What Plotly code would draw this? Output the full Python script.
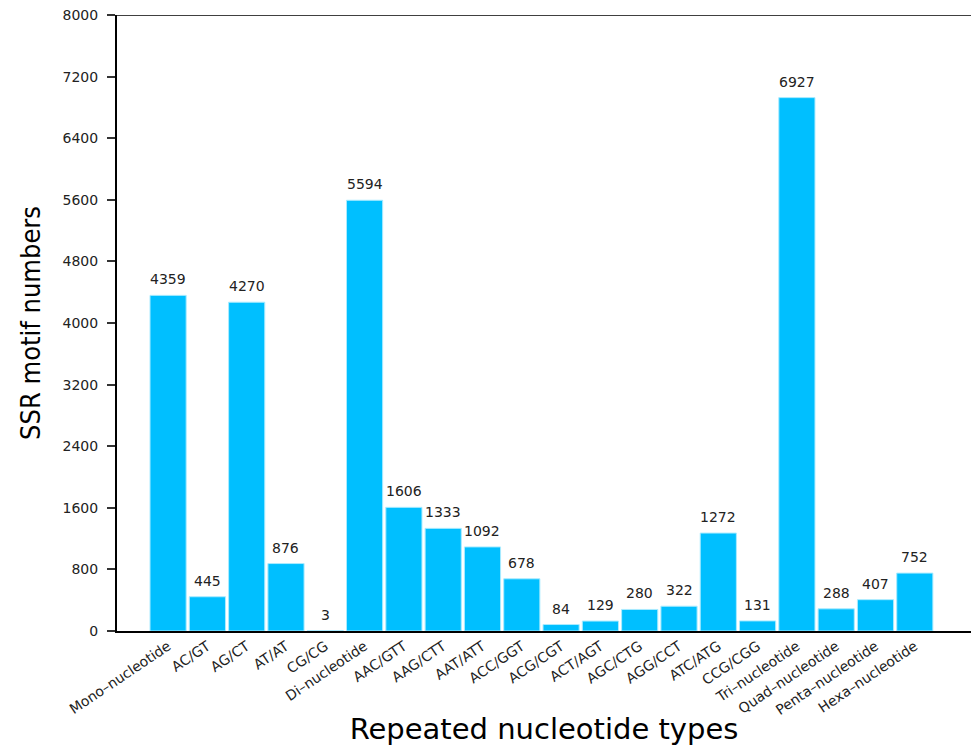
import plotly.graph_objects as go

categories = ["Mono–nucleotide", "AC/GT", "AG/CT", "AT/AT", "CG/CG", "Di–nucleotide",
              "AAC/GTT", "AAG/CTT", "AAT/ATT", "ACC/GGT", "ACG/CGT", "ACT/AGT",
              "AGC/CTG", "AGG/CCT", "ATC/ATG", "CCG/CGG", "Tri–nucleotide",
              "Quad–nucleotide", "Penta–nucleotide", "Hexa–nucleotide"]
counts = [4359, 445, 4270, 876, 3, 5594, 1606, 1333, 1092, 678, 84, 129,
          280, 322, 1272, 131, 6927, 288, 407, 752]
y_ticks = [0, 800, 1600, 2400, 3200, 4000, 4800, 5600, 6400, 7200, 8000]

x_idx = list(range(len(categories)))

fig = go.Figure()
fig.add_trace(go.Bar(
    x=x_idx, y=counts, width=0.92,
    marker=dict(color="#00BFFF", line=dict(color="rgba(170,235,255,1)", width=1)),
    hoverinfo="x+y",
))

for i, v in zip(x_idx, counts):
    fig.add_annotation(x=i, y=v, text=str(v), showarrow=False, yanchor="bottom",
                       yshift=6, font=dict(family="DejaVu Sans", size=14, color="#222"))

fig.add_shape(type="line", xref="paper", yref="y", x0=0, x1=1, y0=8000, y1=8000,
              line=dict(color="black", width=1.5))

fig.update_layout(
    width=971, height=746,
    margin=dict(l=117, r=0, t=15, b=115, autoexpand=False),
    plot_bgcolor="white", paper_bgcolor="white",
    showlegend=False,
    xaxis=dict(
        tickmode="array", tickvals=x_idx, ticktext=categories,
        tickangle=-34, range=[-1.3, 20.43], showline=True, linecolor="black",
        linewidth=1.5, ticks="", showgrid=False, zeroline=False,
        tickfont=dict(family="DejaVu Sans", size=14, color="#222"),
        automargin=False,
        title=dict(text="Repeated nucleotide types", standoff=10,
                   font=dict(family="DejaVu Sans", size=29, color="black")),
    ),
    yaxis=dict(
        range=[0, 8000], tickvals=y_ticks, showline=True, linecolor="black",
        linewidth=2, ticks="outside", ticklen=8, tickwidth=1.5, tickcolor="#333",
        showgrid=False, zeroline=False, ticklabelstandoff=6,
        tickfont=dict(family="DejaVu Sans", size=14, color="#222"),
        automargin=False,
        title=dict(text="SSR motif numbers", standoff=14,
                   font=dict(family="DejaVu Sans Condensed, Liberation Sans Narrow, Liberation Sans", size=27, color="black")),
    ),
)

fig.write_html("out.html", config={"displayModeBar": False},
               post_script="document.body.style.margin='0';document.body.style.overflow='hidden';")
